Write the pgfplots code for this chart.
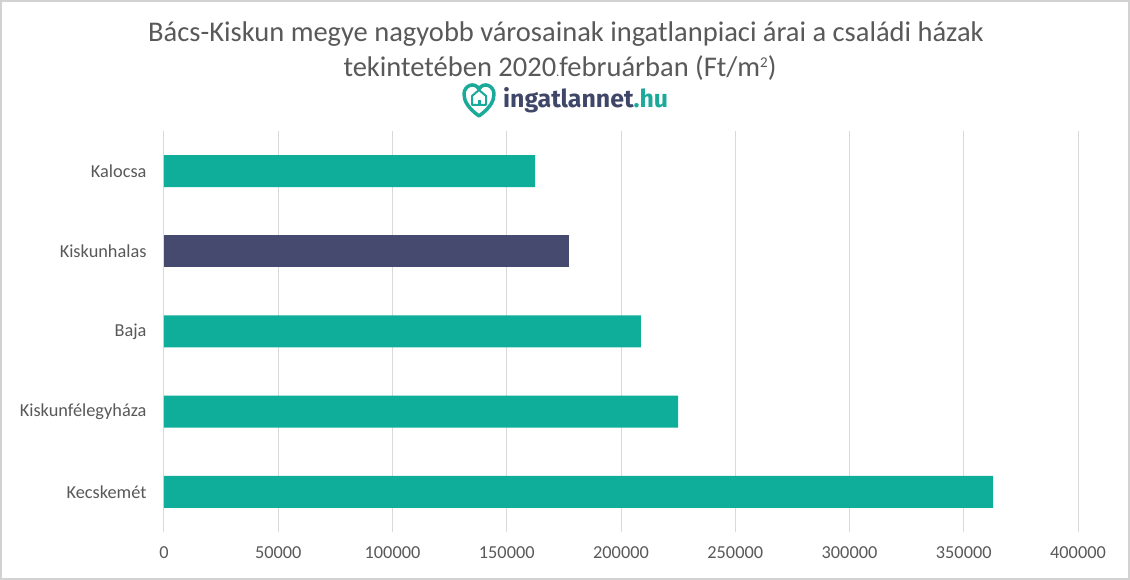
\documentclass[border=0pt]{standalone}
\usepackage{pgfplots}
\pgfplotsset{compat=1.18}
\usepackage{fontspec}
\setmainfont{Carlito}
\newfontfamily\logofont{Fira Sans}
\definecolor{teal1}{HTML}{0FAE9B}
\definecolor{navy1}{HTML}{464A6F}
\definecolor{txtgray}{HTML}{595959}
\definecolor{gridgray}{HTML}{D9D9D9}
\definecolor{logonavy}{HTML}{3F4667}
\definecolor{logoteal}{HTML}{1BA99A}
\begin{document}
\begin{tikzpicture}[x=1pt,y=1pt]
\useasboundingbox (0,0) rectangle (1130,580);
\fill[white] (0,0) rectangle (1130,580);
\draw[gray!35,line width=1.5pt] (1,1) rectangle (1129,579);
\node[txtgray,font=\fontsize{28.5}{32}\selectfont] at (566,546) {Bács-Kiskun megye nagyobb városainak ingatlanpiaci árai a családi házak};
\node[txtgray,font=\fontsize{28.5}{32}\selectfont] at (560,512) {tekintetében 2020{\fontsize{13}{14}\selectfont .}februárban (Ft/m\raisebox{9pt}{\fontsize{15}{16}\selectfont 2})};
% logo
\draw[logoteal,line width=3.5pt,line join=round]
  (479,464) .. controls (468,472) and (464,479) .. (464,486)
  .. controls (464,494) and (474,499) .. (479,491)
  .. controls (484,499) and (494,494) .. (494,486)
  .. controls (494,479) and (490,472) .. (479,464) -- cycle;
\draw[logoteal,line width=2pt,line join=round] (472,475) -- (472,484) -- (479,490) -- (486,484) -- (486,475) -- cycle;
\fill[logoteal] (477.5,475) rectangle (480.5,480);
\node[anchor=base west,inner sep=0pt] at (503,472) {\resizebox{165pt}{20pt}{\logofont\bfseries\color{logonavy}ingatlannet\color{logoteal}.hu}};
\begin{axis}[
  at={(164pt,48pt)}, anchor=south west,
  scale only axis, width=914pt, height=401pt,
  xbar, bar width=32pt, bar shift=0pt,
  xmin=0, xmax=400000, ymin=-0.5, ymax=4.5,
  xtick={0,50000,100000,150000,200000,250000,300000,350000,400000},
  scaled x ticks=false,
  xticklabel style={/pgf/number format/.cd,fixed,precision=0,1000 sep={},assume math mode=true},
  ytick={0,1,2,3,4},
  yticklabels={Kecskemét,Kiskunfélegyháza,Baja,Kiskunhalas,Kalocsa},
  ticklabel style={font=\fontsize{18.3}{20}\selectfont, text=txtgray},
  xticklabel shift=11pt,
  yticklabel shift=14pt,
  major tick length=0pt,
  axis line style={draw=none},
  xmajorgrids, grid style={gridgray,line width=1pt},
  clip=false,
]
\addplot[fill=teal1,draw=none] coordinates {(362800,0) (225000,1) (208700,2) (162400,4)};
\addplot[fill=navy1,draw=none] coordinates {(177200,3)};
\end{axis}
\end{tikzpicture}
\end{document}
